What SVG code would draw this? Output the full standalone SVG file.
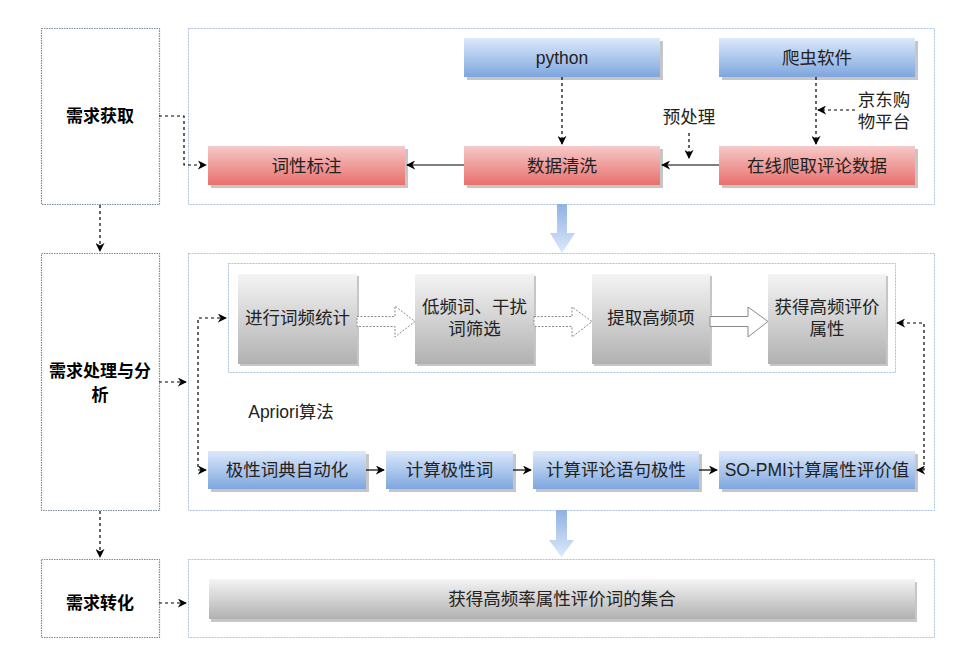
<svg xmlns="http://www.w3.org/2000/svg" width="965" height="652" viewBox="0 0 965 652">
<defs>
<linearGradient id="gRed" x1="0" y1="0" x2="0" y2="1"><stop offset="0" stop-color="#f6c9c8"/><stop offset="1" stop-color="#e8706d"/></linearGradient>
<linearGradient id="gBlue" x1="0" y1="0" x2="0" y2="1"><stop offset="0" stop-color="#dce9fb"/><stop offset="1" stop-color="#7ea6df"/></linearGradient>
<linearGradient id="gGray" x1="0" y1="0" x2="0" y2="1"><stop offset="0" stop-color="#f4f4f4"/><stop offset="1" stop-color="#b1b1b1"/></linearGradient>
<linearGradient id="gArrow" x1="0" y1="0" x2="0" y2="1"><stop offset="0" stop-color="#8fb1e3"/><stop offset="1" stop-color="#dce9fb"/></linearGradient>
<marker id="ah" viewBox="0 0 10 10" refX="9" refY="5" markerWidth="9" markerHeight="9" markerUnits="userSpaceOnUse" orient="auto-start-reverse"><path d="M0,0 L10,5 L0,10 L3,5 z" fill="#000"/></marker>
<style>
.cont{fill:#fff;stroke:#a9c0de;stroke-width:1;stroke-dasharray:2 1}
.lbox{fill:#fff;stroke:#7d8a99;stroke-width:1.2;stroke-dasharray:1.5 1}
.sh{fill:#c6c6c6}
.red{fill:url(#gRed)}
.blue{fill:url(#gBlue)}
.gray{fill:url(#gGray)}
.t{font-family:"Liberation Sans","Noto Sans CJK SC",sans-serif;font-size:17.5px;fill:#222;text-anchor:middle}
.b{font-family:"Noto Sans CJK SC","Liberation Sans",sans-serif;font-size:17px;font-weight:bold;fill:#000;text-anchor:middle}
.dot{fill:none;stroke:#000;stroke-width:1.2;stroke-dasharray:3 3}
.sol{fill:none;stroke:#000;stroke-width:1.2}
.hol{fill:#fff;stroke:#8a8a8a;stroke-width:1}
.hold{fill:#fff;stroke:#8a8a8a;stroke-width:1;stroke-dasharray:2 1.5}
</style>
</defs>
<rect width="965" height="652" fill="#fff"/>

<!-- containers -->
<g id="containers">
<rect class="cont" x="188.5" y="28.5" width="746" height="176"/>
<rect class="cont" x="188.5" y="253.5" width="746" height="257"/>
<rect class="cont" x="228.5" y="263.5" width="667" height="109"/>
<rect class="cont" x="188.5" y="559.5" width="746" height="78"/>
</g>

<!-- big blue arrows -->
<g id="flow-arrows">
<path d="M557,204 H567 V233 H575 L562,253 L550,233 H557 Z" fill="url(#gArrow)"/>
<path d="M556,510 H567 V540 H574 L561.5,557 L549,540 H556 Z" fill="url(#gArrow)"/>
</g>

<!-- left stage boxes -->
<g id="stage1"><rect class="lbox" x="41.5" y="28.5" width="118" height="176"/><text class="b" x="100" y="122">需求获取</text></g>
<g id="stage2"><rect class="lbox" x="41.5" y="253.5" width="118" height="257"/><text class="b" x="100" y="377">需求处理与分</text><text class="b" x="100" y="401">析</text></g>
<g id="stage3"><rect class="lbox" x="41.5" y="559.5" width="118" height="78"/><text class="b" x="100" y="609">需求转化</text></g>

<!-- row 1 -->
<g id="n-cixing"><rect class="sh" x="211" y="149" width="197" height="39"/><rect class="red" x="208" y="146" width="197" height="39"/><text class="t" x="306.5" y="171.5">词性标注</text></g>
<g id="n-qingxi"><rect class="sh" x="467" y="149" width="196" height="39"/><rect class="red" x="464" y="146" width="196" height="39"/><text class="t" x="562" y="171.5">数据清洗</text></g>
<g id="n-paqu"><rect class="sh" x="722" y="149" width="196" height="39"/><rect class="red" x="719" y="146" width="196" height="39"/><text class="t" x="817" y="171.5">在线爬取评论数据</text></g>
<g id="n-python"><rect class="sh" x="467" y="41" width="196" height="39"/><rect class="blue" x="464" y="38" width="196" height="39"/><text class="t" x="562" y="63.5">python</text></g>
<g id="n-pachong"><rect class="sh" x="722" y="41" width="196" height="39"/><rect class="blue" x="719" y="38" width="196" height="39"/><text class="t" x="817" y="63.5">爬虫软件</text></g>

<!-- row 2 gray -->
<g id="n-cipin"><rect class="sh" x="240" y="276" width="119" height="90"/><rect class="gray" x="238" y="274" width="119" height="90"/><text class="t" x="297.5" y="324">进行词频统计</text></g>
<g id="n-shaixuan"><rect class="sh" x="417" y="276" width="119" height="90"/><rect class="gray" x="415" y="274" width="119" height="90"/><text class="t" x="474.5" y="313">低频词、干扰</text><text class="t" x="474.5" y="335">词筛选</text></g>
<g id="n-tiqu"><rect class="sh" x="594" y="276" width="118" height="90"/><rect class="gray" x="592" y="274" width="118" height="90"/><text class="t" x="651" y="324">提取高频项</text></g>
<g id="n-shuxing"><rect class="sh" x="770" y="276" width="118" height="90"/><rect class="gray" x="768" y="274" width="118" height="90"/><text class="t" x="827" y="313">获得高频评价</text><text class="t" x="827" y="335">属性</text></g>

<text class="t" x="291" y="418">Apriori算法</text>

<!-- row 3 blue -->
<g id="n-cidian"><rect class="sh" x="211" y="454" width="158" height="38"/><rect class="blue" x="208" y="451" width="158" height="38"/><text class="t" x="287" y="476">极性词典自动化</text></g>
<g id="n-jixingci"><rect class="sh" x="389" y="454" width="127" height="38"/><rect class="blue" x="386" y="451" width="127" height="38"/><text class="t" x="449.5" y="476">计算极性词</text></g>
<g id="n-yuju"><rect class="sh" x="536" y="454" width="166" height="38"/><rect class="blue" x="533" y="451" width="166" height="38"/><text class="t" x="616" y="476">计算评论语句极性</text></g>
<g id="n-sopmi"><rect class="sh" x="722" y="454" width="196" height="38"/><rect class="blue" x="719" y="451" width="196" height="38"/><text class="t" x="817" y="476">SO-PMI计算属性评价值</text></g>

<!-- result -->
<g id="n-jihe"><rect class="sh" x="211" y="582" width="706" height="40"/><rect class="gray" x="209" y="579" width="706" height="40"/><text class="t" x="562" y="605">获得高频率属性评价词的集合</text></g>

<!-- labels -->
<text class="t" x="689" y="123">预处理</text>
<text class="t" x="884" y="106">京东购</text>
<text class="t" x="884" y="128">物平台</text>

<!-- connectors -->
<g id="connectors">
<path class="dot" d="M159,116 H184 V165 H206" marker-end="url(#ah)"/>
<path class="dot" d="M562,77 V144" marker-end="url(#ah)"/>
<path class="dot" d="M816,77 V144" marker-end="url(#ah)"/>
<path class="dot" d="M855,110 H818" marker-end="url(#ah)"/>
<path class="dot" d="M689,133 V158" marker-end="url(#ah)"/>
<path class="sol" d="M719,165 H662" marker-end="url(#ah)"/>
<path class="sol" d="M464,165 H407" marker-end="url(#ah)"/>
<path class="dot" d="M100,205 V251" marker-end="url(#ah)"/>
<path class="dot" d="M100,511 V557" marker-end="url(#ah)"/>
<path class="dot" d="M159,603 H186" marker-end="url(#ah)"/>
<path class="dot" d="M159,382 H186" marker-end="url(#ah)"/>
<path class="dot" d="M226,318 H198 V470 H206" marker-start="url(#ah)" marker-end="url(#ah)"/>
<path class="dot" d="M917,470 H924 V323 H897" marker-start="url(#ah)" marker-end="url(#ah)"/>
<path class="sol" d="M366,470 H384" marker-end="url(#ah)"/>
<path class="sol" d="M513,470 H531" marker-end="url(#ah)"/>
<path class="sol" d="M699,470 H717" marker-end="url(#ah)"/>
<path class="hold" d="M357,316.5 H395 V306 L415,321.5 L395,337 V326.5 H357 Z"/>
<path class="hold" d="M534,316.5 H572 V307 L592,321.5 L572,337 V326.5 H534 Z"/>
<path class="hol" d="M710,316.5 H748 V307 L768,321.5 L748,337 V326.5 H710 Z"/>
</g>
</svg>
